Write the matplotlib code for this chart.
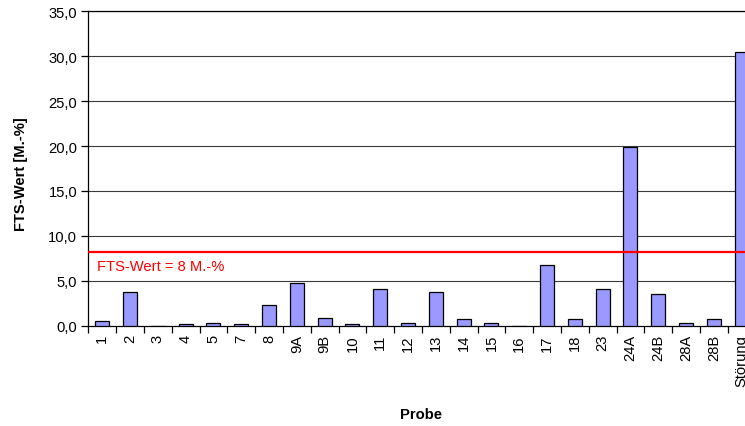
import matplotlib
matplotlib.use("Agg")
import matplotlib.pyplot as plt
import numpy as np

categories = ["1", "2", "3", "4", "5", "7", "8", "9A", "9B", "10", "11", "12",
              "13", "14", "15", "16", "17", "18", "23", "24A", "24B", "28A", "28B", "Störung"]
values = [0.5, 3.7, 0.0, 0.15, 0.3, 0.15, 2.3, 4.8, 0.9, 0.15, 4.05, 0.3,
          3.8, 0.75, 0.3, 0.0, 6.75, 0.75, 4.05, 19.9, 3.55, 0.3, 0.75, 30.5]
limit_value = 8.15
limit_label = "FTS-Wert = 8 M.-%"
y_ticks = [0, 5, 10, 15, 20, 25, 30, 35]

plt.rcParams['font.family'] = ['Liberation Sans', 'DejaVu Sans']
FS = 10.6

W, H = 745, 427
fig = plt.figure(figsize=(W / 100, H / 100), dpi=100)
left, right, top, bottom = 88.3, 755.5, 12.3, 326.7
ax = fig.add_axes([left / W, 1 - bottom / H, (right - left) / W, (bottom - top) / H])

x = np.arange(len(categories))
ax.bar(x, values, width=0.5, color="#9999FF", edgecolor="#000000", linewidth=0.9, zorder=3)

ax.set_xlim(-0.5, len(categories) - 0.5)
ax.set_ylim(0, 35)
ax.set_yticks(y_ticks)
ax.set_yticklabels([f"{v:.1f}".replace(".", ",") for v in y_ticks], fontsize=FS)
for v in y_ticks[1:]:
    ax.axhline(v, color="#3a3a3a", linewidth=0.8, zorder=1)

ax.set_xticks(x)
ax.set_xticklabels(categories, rotation=90, fontsize=FS)
ax.tick_params(axis='x', length=0, pad=6)
ax.set_xticks(np.arange(-0.5, len(categories)), minor=True)
ax.tick_params(axis='x', which='minor', length=5, width=0.9, direction='out')
ax.tick_params(axis='y', length=5, width=0.9, direction='out', pad=3)

for s in ["left", "bottom", "top", "right"]:
    ax.spines[s].set_color("#000000")
    ax.spines[s].set_linewidth(0.9)

ax.axhline(limit_value, color="#FF0000", linewidth=1.6, zorder=4)
ax.text(0.013, (limit_value - 1.5) / 35, limit_label,
        transform=ax.transAxes, color="#FF0000", fontsize=FS, va="center", ha="left")

fig.text(21 / W, 1 - 174 / H, "FTS-Wert [M.-%]", rotation=90, fontsize=FS,
         fontweight="bold", ha="center", va="center")
fig.text(421 / W, 1 - 415 / H, "Probe", fontsize=FS, fontweight="bold", ha="center", va="center")

fig.savefig("out.png", dpi=100)
